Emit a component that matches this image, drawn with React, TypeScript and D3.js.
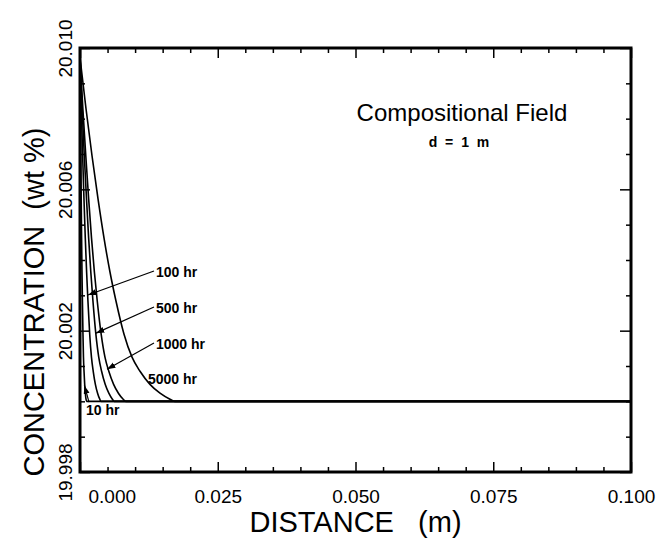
import React, { useRef, useEffect } from "react";
import * as d3 from "d3";

// distance (m) and concentration (wt %), one list per duration
const dist10 = [0, 0.00007, 0.00015, 0.00022, 0.00029, 0.00036, 0.00044, 0.00054, 0.00063, 0.00073, 0.00085, 0.00097, 0.00109, 0.0012, 0.1];
const dist100 = [0, 0.00024, 0.00048, 0.00072, 0.00096, 0.0012, 0.00144, 0.00176, 0.00208, 0.0024, 0.00279, 0.00319, 0.00359, 0.0038, 0.1];
const dist500 = [0, 0.00039, 0.00078, 0.00118, 0.00157, 0.00196, 0.00235, 0.00288, 0.0034, 0.00392, 0.00457, 0.00523, 0.00588, 0.0062, 0.1];
const dist1000 = [0, 0.00052, 0.00105, 0.00157, 0.00209, 0.00261, 0.00313, 0.00384, 0.00453, 0.00523, 0.0061, 0.00697, 0.00784, 0.0083, 0.1];
const dist5000 = [0, 0.00109, 0.00218, 0.00327, 0.00436, 0.00544, 0.00653, 0.00799, 0.00944, 0.01089, 0.0127, 0.01452, 0.01633, 0.0172, 0.1];
const concProfile = [20.00973, 20.00828, 20.00695, 20.00573, 20.00462, 20.00366, 20.00284, 20.0019, 20.00125, 20.00085, 20.00048, 20.00023, 20.00006, 20.0, 20.0];

const seriesNames = ["10 hr", "100 hr", "500 hr", "1000 hr", "5000 hr"];
const seriesDist = [dist10, dist100, dist500, dist1000, dist5000];

const xMajor = [0, 0.025, 0.05, 0.075, 0.1];
const yMajor = [19.998, 20.002, 20.006, 20.01];

// label anchor and arrow tip, in data units
const labelX = [0.00109, 0.01379, 0.01379, 0.01379, 0.01234];
const labelY = [19.99975, 20.00366, 20.00264, 20.00162, 20.00063];
const tipX = [0.0008, 0.00145, 0.0029, 0.0049, null];
const tipY = [20.00045, 20.00301, 20.00193, 20.00091, null];

export default function App() {
  const svgRef = useRef<SVGSVGElement>(null);

  useEffect(() => {
    const svg = d3.select(svgRef.current);
    svg.selectAll("*").remove();

    const margin = { top: 48, right: 41, bottom: 68, left: 80 };
    const width = 672 - margin.left - margin.right;
    const height = 540 - margin.top - margin.bottom;
    const font = "'Liberation Sans', Arial, sans-serif";

    const x = d3.scaleLinear().domain([0, 0.1]).range([0, width]);
    const y = d3.scaleLinear().domain([19.998, 20.01]).range([height, 0]);

    const g = svg.append("g").attr("transform", `translate(${margin.left},${margin.top})`);

    const xMinor = d3.range(0, 0.1001, 0.005).filter((v) => !xMajor.some((m) => Math.abs(m - v) < 1e-9));
    const yMinor = d3.range(19.998, 20.0101, 0.001).filter((v) => !yMajor.some((m) => Math.abs(m - v) < 1e-9));

    // ticks on all four sides, pointing inward
    const tickAxis = (axis: any, tr: string) => {
      const a = g.append("g").attr("transform", tr).call(axis);
      a.select(".domain").remove();
      a.selectAll("line").attr("stroke", "#000").attr("stroke-width", 1.5);
      return a;
    };
    tickAxis(d3.axisBottom(x).tickValues(xMinor).tickSize(-5).tickFormat(() => ""), `translate(0,${height})`);
    tickAxis(d3.axisTop(x).tickValues(xMinor).tickSize(-5).tickFormat(() => ""), "translate(0,0)");
    tickAxis(d3.axisTop(x).tickValues(xMajor).tickSize(-10).tickFormat(() => ""), "translate(0,0)");
    tickAxis(d3.axisLeft(y).tickValues(yMinor).tickSize(-5).tickFormat(() => ""), "translate(0,0)");
    tickAxis(d3.axisRight(y).tickValues(yMinor).tickSize(-5).tickFormat(() => ""), `translate(${width},0)`);
    tickAxis(d3.axisRight(y).tickValues(yMajor).tickSize(-11).tickFormat(() => ""), `translate(${width},0)`);

    const xAx = tickAxis(
      d3.axisBottom(x).tickValues(xMajor).tickSize(-10).tickPadding(18).tickFormat(d3.format(".3f")),
      `translate(0,${height})`
    );
    xAx.selectAll("text").attr("font-family", font).attr("font-size", 19).attr("fill", "#000");
    // the first label sits to the right of its tick, as in the original
    xAx.selectAll("text").filter((d: any) => d === 0).attr("text-anchor", "start").attr("x", 8);

    const yAx = tickAxis(
      d3.axisLeft(y).tickValues(yMajor).tickSize(-10).tickFormat(d3.format(".3f")),
      "translate(0,0)"
    );
    yAx.selectAll("text")
      .attr("font-family", font)
      .attr("font-size", 19)
      .attr("fill", "#000")
      .attr("text-anchor", "middle")
      .attr("transform", "rotate(-90)")
      .attr("x", 0)
      .attr("y", -8)
      .attr("dy", 0);

    // curves
    seriesDist.forEach((dists, s) => {
      const pts = dists.map((d, i) => [d, concProfile[i]] as [number, number]);
      const path = d3
        .line<[number, number]>()
        .x((d) => x(d[0]))
        .y((d) => y(d[1]))
        .curve(d3.curveMonotoneX)(pts);
      g.append("path")
        .attr("d", path)
        .attr("fill", "none")
        .attr("stroke", "#000")
        .attr("stroke-width", 1.6)
        .attr("data-name", seriesNames[s]);
    });

    // frame
    g.append("rect")
      .attr("width", width)
      .attr("height", height)
      .attr("fill", "none")
      .attr("stroke", "#000")
      .attr("stroke-width", 3);

    // arrows + labels
    svg.append("defs")
      .append("marker")
      .attr("id", "arr")
      .attr("viewBox", "0 0 10 10")
      .attr("refX", 10)
      .attr("refY", 5)
      .attr("markerWidth", 7)
      .attr("markerHeight", 7)
      .attr("orient", "auto")
      .append("path")
      .attr("d", "M0,1.5L10,5L0,8.5Z")
      .attr("fill", "#000");

    seriesNames.forEach((name, i) => {
      const lx = x(labelX[i]);
      const ly = y(labelY[i]);
      g.append("text")
        .attr("x", lx)
        .attr("y", ly)
        .attr("dy", "0.36em")
        .attr("font-family", font)
        .attr("font-size", 14)
        .attr("font-weight", "bold")
        .text(name);
      const tx = tipX[i];
      const ty = tipY[i];
      if (tx != null && ty != null) {
        const sx = i === 0 ? lx + 3 : lx - 2;
        const sy = i === 0 ? ly - 8 : ly - 1;
        g.append("line")
          .attr("x1", sx)
          .attr("y1", sy)
          .attr("x2", x(tx))
          .attr("y2", y(ty))
          .attr("stroke", "#000")
          .attr("stroke-width", 1.2)
          .attr("marker-end", "url(#arr)");
      }
    });

    // titles
    svg.append("text")
      .attr("x", 462)
      .attr("y", 121)
      .attr("text-anchor", "middle")
      .attr("font-family", font)
      .attr("font-size", 24)
      .text("Compositional Field");
    svg.append("text")
      .attr("x", 460)
      .attr("y", 147)
      .attr("text-anchor", "middle")
      .attr("font-family", font)
      .attr("font-size", 14)
      .attr("font-weight", "bold")
      .attr("letter-spacing", 2)
      .style("white-space", "pre")
      .text("d = 1 m");

    svg.append("text")
      .attr("x", margin.left + width / 2)
      .attr("y", 532)
      .attr("text-anchor", "middle")
      .attr("font-family", font)
      .attr("font-size", 29)
      .style("white-space", "pre")
      .text("DISTANCE   (m)");
    svg.append("text")
      .attr("transform", `translate(44,302) rotate(-90)`)
      .attr("text-anchor", "middle")
      .attr("font-family", font)
      .attr("font-size", 29)
      .style("white-space", "pre")
      .text("CONCENTRATION  (wt %)");
  }, []);

  return (
    <svg
      ref={svgRef}
      width={672}
      height={540}
      style={{ position: "absolute", left: 0, top: 0, background: "#fff" }}
    />
  );
}
